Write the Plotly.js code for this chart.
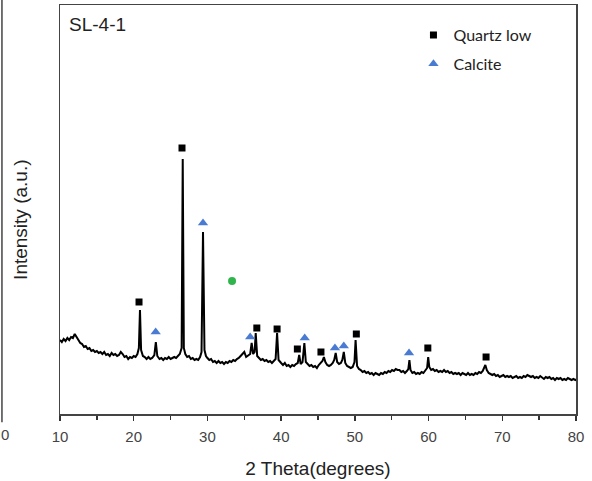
<!DOCTYPE html>
<html>
<head>
<meta charset="utf-8">
<script src="https://cdn.plot.ly/plotly-3.0.1.min.js"></script>
<style>html,body{margin:0;padding:0;background:#fff;}#chart{width:592px;height:481px;}</style>
</head>
<body>
<div id="chart"></div>
<script>
const twoTheta = [
10.00,10.25,10.50,10.75,11.00,11.25,11.50,11.75,12.00,12.25,12.50,12.75,13.00,13.25,13.50,13.75,14.00,14.25,14.50,14.75,
15.00,15.25,15.50,15.75,16.00,16.25,16.50,16.75,17.00,17.25,17.50,17.75,18.00,18.25,18.50,18.75,19.00,19.25,19.50,19.75,
20.00,20.25,20.50,20.70,20.85,21.00,21.25,21.50,21.75,22.00,22.25,22.50,22.80,23.00,23.20,23.50,23.75,24.00,24.25,24.50,
24.75,25.00,25.25,25.50,25.75,26.00,26.25,26.50,26.65,26.80,27.00,27.25,27.50,27.75,28.00,28.25,28.50,28.75,29.00,29.20,
29.40,29.60,29.80,30.00,30.25,30.50,30.75,31.00,31.25,31.50,31.75,32.00,32.25,32.50,32.75,33.00,33.25,33.50,33.75,34.00,
34.25,34.50,34.75,35.00,35.25,35.50,35.80,36.00,36.20,36.40,36.55,36.75,37.00,37.25,37.50,37.75,38.00,38.25,38.50,38.75,
39.00,39.25,39.45,39.65,40.00,40.25,40.50,40.75,41.00,41.25,41.50,41.75,42.00,42.25,42.45,42.65,42.90,43.15,43.35,43.60,
43.85,44.10,44.35,44.60,44.85,45.10,45.35,45.60,45.80,46.00,46.25,46.50,46.75,47.00,47.20,47.40,47.60,47.85,48.10,48.30,
48.50,48.70,48.95,49.20,49.45,49.70,49.95,50.10,50.30,50.55,50.80,51.05,51.30,51.55,51.80,52.05,52.30,52.55,52.80,53.05,
53.30,53.55,53.80,54.05,54.30,54.55,54.80,55.05,55.30,55.55,55.80,56.05,56.30,56.55,56.80,57.05,57.25,57.40,57.55,57.80,
58.05,58.30,58.55,58.80,59.05,59.30,59.55,59.80,59.95,60.10,60.35,60.60,60.85,61.10,61.35,61.60,61.85,62.10,62.35,62.60,
62.85,63.10,63.35,63.60,63.85,64.10,64.35,64.60,64.85,65.10,65.35,65.60,65.85,66.10,66.35,66.60,66.85,67.10,67.35,67.55,
67.70,67.90,68.15,68.40,68.65,68.90,69.15,69.40,69.65,69.90,70.15,70.40,70.65,70.90,71.15,71.40,71.65,71.90,72.15,72.40,
72.65,72.90,73.15,73.40,73.65,73.90,74.15,74.40,74.65,74.90,75.15,75.40,75.65,75.90,76.15,76.40,76.65,76.90,77.15,77.40,
77.65,77.90,78.15,78.40,78.65,78.90,79.15,79.40,79.65,79.90,80.00
];
const intensity = [
74,72,75,73,76,74,77,76,80,77,74,71,70,67,68,65,66,63,64,62,
63,61,62,60,62,59,60,58,61,59,60,58,59,62,60,57,58,55,57,56,
58,57,60,66,104,64,58,57,55,57,55,56,59,72,58,55,56,54,56,55,
57,55,56,57,56,58,60,66,255,66,60,57,58,55,56,54,55,54,57,62,
182,64,58,56,54,55,52,53,51,53,51,52,50,52,51,53,52,54,53,55,
56,58,60,62,57,58,60,71,60,62,81,58,56,54,55,53,54,52,53,51,
53,55,81,54,51,49,51,48,49,47,49,48,50,51,59,50,52,71,52,50,
48,49,47,48,46,49,51,53,57,52,49,48,49,51,54,61,52,50,51,54,
62,51,48,47,46,47,52,74,48,45,44,42,43,41,42,40,41,39,41,40,
39,41,40,42,41,43,42,44,43,45,44,44,42,43,41,43,45,54,44,41,
42,40,41,40,42,41,43,46,57,47,44,45,43,44,42,43,42,44,42,43,
41,42,40,41,40,41,39,41,40,39,41,39,40,39,41,40,42,41,43,46,
49,44,41,40,39,40,38,39,37,38,39,37,38,37,38,36,37,38,36,37,
36,38,37,39,38,37,38,36,37,36,38,36,35,37,36,37,35,36,34,36,
35,36,34,35,34,36,35,34,35,34,35
];

// phase markers
const quartzX = [20.72, 26.55, 36.7, 39.45, 42.2, 45.4, 50.2, 59.9, 67.8];
const quartzY = [112, 266, 86, 85, 65, 62, 80, 66, 57];
const calciteX = [22.98, 29.4, 35.8, 43.2, 47.3, 48.5, 57.35];
const calciteY = [82, 191, 77, 76, 66, 68, 61];
const otherX = [33.34];
const otherY = [133];

const xTicks = [10, 20, 30, 40, 50, 60, 70, 80];

const traces = [
  {x: twoTheta, y: intensity, mode: 'lines', line: {color: '#000', width: 2},
   showlegend: false, hoverinfo: 'skip'},
  {x: quartzX, y: quartzY, mode: 'markers', name: 'Quartz low', legendgroup: 'q',
   marker: {symbol: 'square', size: 7, color: '#000'}},
  {x: calciteX, y: calciteY, mode: 'markers', name: 'Calcite', legendgroup: 'c',
   marker: {symbol: 'triangle-up', size: 9, color: '#4a7bd2'}},
  {x: otherX, y: otherY, mode: 'markers', showlegend: false,
   marker: {symbol: 'circle', size: 8, color: '#2fb54c'}}
];

const layout = {
  width: 592, height: 481,
  margin: {l: 60, r: 16, t: 5, b: 67},
  paper_bgcolor: '#fff', plot_bgcolor: '#fff',
  font: {family: 'Liberation Sans, Arial, sans-serif', color: '#333'},
  showlegend: true,
  legend: {x: 0.685, y: 0.968, xanchor: 'left', yanchor: 'top',
           font: {family: 'Lato, sans-serif', size: 16, color: '#222'},
           bgcolor: 'rgba(0,0,0,0)', tracegroupgap: 5},
  xaxis: {range: [10, 80], tickvals: xTicks, ticks: 'outside', ticklen: 5, tickwidth: 1.5,
          tickcolor: '#333', showline: true, linecolor: '#444', linewidth: 1.5, mirror: true,
          showgrid: false, zeroline: false, ticklabelstandoff: 3,
          tickfont: {size: 15, color: '#444'},
          minor: {dtick: 5, tick0: 5, ticks: 'outside', ticklen: 4, tickwidth: 1.5, tickcolor: '#333', showgrid: false},
          title: {text: '2 Theta(degrees)', font: {size: 19, color: '#222'}, standoff: 18}},
  yaxis: {range: [0, 409], showticklabels: false, ticks: '', showline: true, linecolor: '#444',
          linewidth: 1.5, mirror: true, showgrid: false, zeroline: false},
  annotations: [
    {text: 'Intensity (a.u.)', xref: 'paper', yref: 'paper', x: -0.078, y: 0.474, xanchor: 'center', yanchor: 'middle',
     textangle: -90, showarrow: false, font: {size: 19, color: '#222'}},
    {text: 'SL-4-1', xref: 'paper', yref: 'paper', x: 0.0145, y: 0.953, xanchor: 'left', yanchor: 'middle',
     showarrow: false, font: {size: 19, color: '#222'}},
    {text: '0', xref: 'paper', yref: 'paper', x: -0.118, y: -0.05, xanchor: 'left', yanchor: 'middle',
     showarrow: false, font: {size: 15, color: '#444'}}
  ],
  shapes: [
    {type: 'line', xref: 'paper', yref: 'paper', x0: -0.1125, x1: -0.1125, y0: 1.015, y1: -0.02,
     line: {color: '#444', width: 1.5}}
  ]
};

Plotly.newPlot('chart', traces, layout, {displayModeBar: false, staticPlot: true});
</script>
</body>
</html>
